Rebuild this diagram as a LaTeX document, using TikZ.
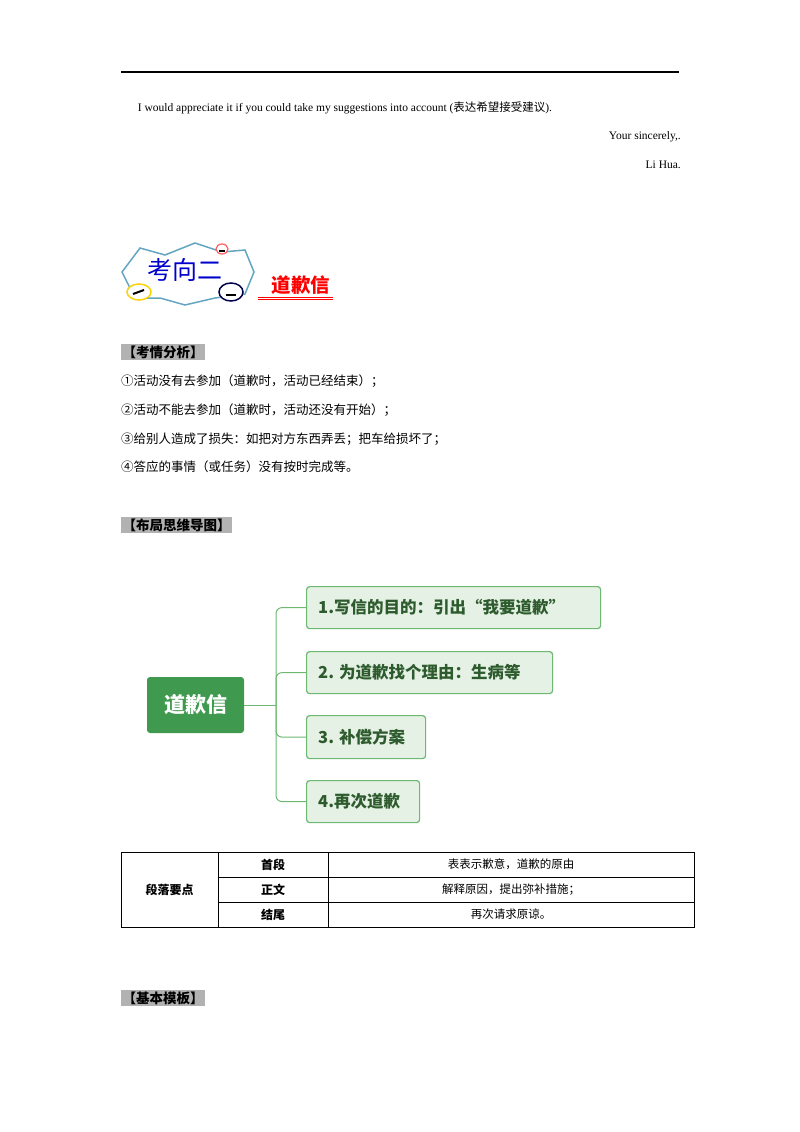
\documentclass[tikz,border=0pt]{standalone}
\usepackage{fontspec}
\setmainfont{Liberation Serif}
\newfontfamily\cjk{Noto Sans CJK SC}
\usetikzlibrary{calc}
\definecolor{mgreen}{HTML}{3F9A50}
\definecolor{lgreen}{HTML}{E4F1E4}
\definecolor{bgreen}{HTML}{6DB872}
\definecolor{dgreen}{HTML}{2E5B2E}
\tikzset{
 body/.style={inner sep=0pt,font=\fontsize{12.5}{14}\selectfont\cjk},
 eng/.style={inner sep=0pt,font=\fontsize{11.5}{14}\selectfont},
 hdr/.style={inner sep=1.5pt,fill=black!30,font=\fontsize{13.5}{15}\selectfont\cjk\bfseries},
 leaf/.style={draw=bgreen,line width=1.2pt,fill=lgreen,rounded corners=3pt,anchor=north west,inner sep=0pt},
 ltxt/.style={inner sep=0pt,anchor=west,font=\fontsize{16.5}{19}\selectfont\cjk\bfseries,text=dgreen},
 conn/.style={draw=bgreen,line width=1pt,rounded corners=6pt},
 cell/.style={inner sep=0pt,font=\fontsize{11.5}{14}\selectfont\cjk},
}
\begin{document}
\begin{tikzpicture}[x=1pt,y=-1pt]
\useasboundingbox (0,0) rectangle (800,1132);
\draw[line width=1.2pt] (121,72) coordinate (l1) -- (679,72) coordinate (l2);
\node[eng] (t1) at (345,108) {I would appreciate it if you could take my suggestions into account ({\cjk 表达希望接受建议}).};
\node[eng,anchor=east] (t2) at (681,137) {Your sincerely,.};
\node[eng,anchor=east] (t3) at (681,165) {Li Hua.};
% badge
\draw[draw=cyan!50!gray,line width=1.5pt,fill=white] (122,272) -- (140,248) -- (165,255) -- (195,243) -- (222,252) -- (245,250) -- (254,272) -- (245,294) -- (215,298) -- (185,305) -- (160,298) -- (135,298) -- cycle;
\node[inner sep=0pt,text=blue!80!black,font=\fontsize{25}{27}\selectfont\cjk] (bd) at (185,270) {考向二};
\draw[draw=red!60,line width=1.3pt,fill=white] (222,249) ellipse (6 and 5);
\draw[line width=1.5pt] (219,251) -- (225,251);
\draw[draw=yellow!70!orange,line width=1.5pt,fill=white] (139,292) ellipse (12 and 8);
\draw[line width=2pt] (133,294) -- (144,290);
\draw[draw=blue!30!black,line width=1.5pt,fill=white] (231,292) ellipse (12 and 9);
\draw[line width=2pt] (226,295) -- (236,295);
\node[inner sep=0pt,text=red,font=\fontsize{19.5}{22}\selectfont\cjk\bfseries] (title) at (301,285) {道歉信};
\draw[red,line width=1pt] (258,297) -- (333,297);
\draw[red,line width=0.5pt] (258,299.5) -- (333,299.5);
% analysis
\node[hdr,anchor=west] (h1) at (121,352) {【考情分析】};
\node[body,anchor=west] (a1) at (121,381) {①活动没有去参加（道歉时，活动已经结束）；};
\node[body,anchor=west] (a2) at (121,410) {②活动不能去参加（道歉时，活动还没有开始）；};
\node[body,anchor=west] (a3) at (121,439) {③给别人造成了损失：如把对方东西弄丢；把车给损坏了；};
\node[body,anchor=west] (a4) at (121,467) {④答应的事情（或任务）没有按时完成等。};
\node[hdr,anchor=west] (h2) at (121,525) {【布局思维导图】};
% mind map
\node[fill=mgreen,rounded corners=3pt,minimum width=97pt,minimum height=56pt,text=white,font=\fontsize{21}{24}\selectfont\cjk\bfseries] (root) at (195.5,705) {道歉信};
\node[leaf,minimum width=294pt,minimum height=42pt] (c1) at (306,586) {};
\node[leaf,minimum width=246pt,minimum height=42pt] (c2) at (306,651) {};
\node[leaf,minimum width=119pt,minimum height=43pt] (c3) at (306,715) {};
\node[leaf,minimum width=113pt,minimum height=42pt] (c4) at (306,780) {};
\node[ltxt] (x1) at (318,607) {1.写信的目的：引出“我要道歉”};
\node[ltxt] (x2) at (318,672) {2. 为道歉找个理由：生病等};
\node[ltxt] (x3) at (318,737) {3. 补偿方案};
\node[ltxt] (x4) at (318,801) {4.再次道歉};
\coordinate (j) at (276,705);
\draw[conn] (root.east) -- (j);
\draw[conn] (j) |- (c1.west);
\draw[conn] (j) |- (c2.west);
\draw[conn] (j) |- (c3.west);
\draw[conn] (j) |- (c4.west);
% table
\draw[line width=0.8pt] (121,852) rectangle (694,927);
\draw[line width=0.8pt] (218,852) -- (218,927) (328,852) -- (328,927) (218,877) -- (694,877) (218,902) -- (694,902);
\node[cell,font=\fontsize{12}{14}\selectfont\cjk\bfseries] (k) at (169.5,889.5) {段落要点};
\node[cell,font=\fontsize{12}{14}\selectfont\cjk\bfseries] (r1) at (273,864.5) {首段};
\node[cell,font=\fontsize{12}{14}\selectfont\cjk\bfseries] (r2) at (273,889.5) {正文};
\node[cell,font=\fontsize{12}{14}\selectfont\cjk\bfseries] (r3) at (273,914.5) {结尾};
\node[cell] (v1) at (511,864.5) {表表示歉意，道歉的原由};
\node[cell] (v2) at (511,889.5) {解释原因，提出弥补措施；};
\node[cell] (v3) at (511,914.5) {再次请求原谅。};
\node[hdr,anchor=west] (h3) at (121,998) {【基本模板】};
\end{tikzpicture}
\end{document}
